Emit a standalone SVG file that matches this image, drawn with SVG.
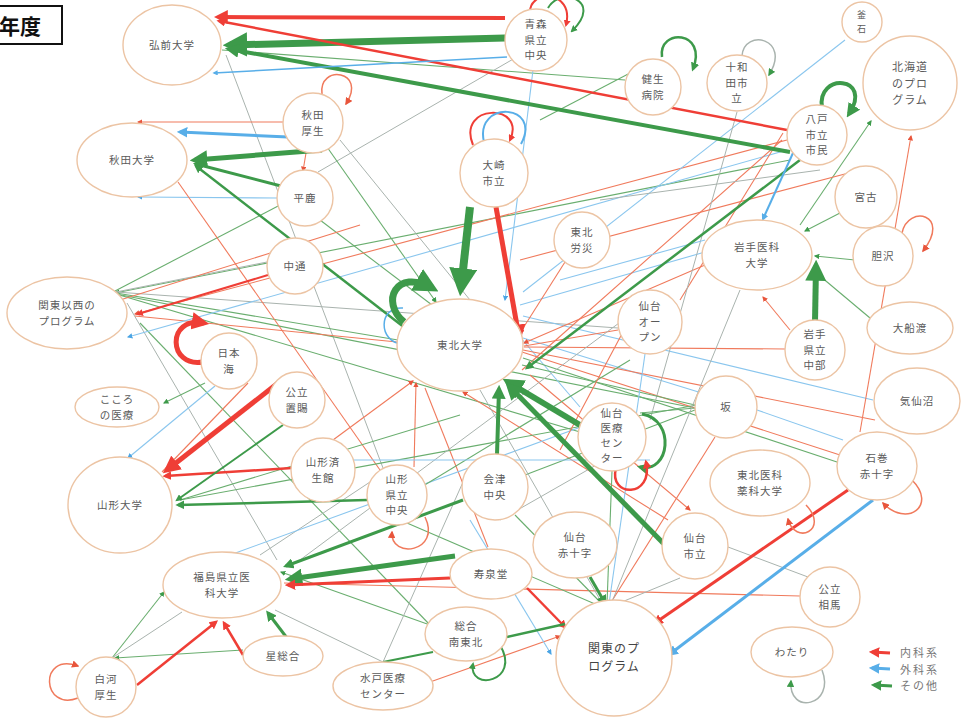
<svg xmlns="http://www.w3.org/2000/svg" width="961" height="719" viewBox="0 0 961 719">
<style>
.nd{fill:#fff;stroke:#ecc4a4;stroke-width:1.4}
.tx{font-family:"Noto Sans CJK JP","Noto Sans",sans-serif;font-size:10.5px;fill:#5a5a5a;text-anchor:middle;letter-spacing:1px}
path{fill:none}
.R{stroke:#ef3e36}.G{stroke:#3d9a4a}.B{stroke:#58aee8}
.r{stroke:#f07a5c;stroke-width:1.1}.g{stroke:#6aae6f;stroke-width:1.1}.b{stroke:#8ac6ee;stroke-width:1.1}.k{stroke:#a9b3ae;stroke-width:1}
.lg{font-family:"Noto Sans CJK JP","Noto Sans",sans-serif;font-size:11px;fill:#777;letter-spacing:2px}
</style>
<defs>
<marker id="mR" viewBox="0 0 10 10" refX="7" refY="5" markerWidth="3.5" markerHeight="3.5" orient="auto"><path d="M0,0L10,5L0,10z" style="fill:#ef3e36"/></marker>
<marker id="mG" viewBox="0 0 10 10" refX="7" refY="5" markerWidth="3.5" markerHeight="3.5" orient="auto"><path d="M0,0L10,5L0,10z" style="fill:#3d9a4a"/></marker>
<marker id="mB" viewBox="0 0 10 10" refX="7" refY="5" markerWidth="3.5" markerHeight="3.5" orient="auto"><path d="M0,0L10,5L0,10z" style="fill:#58aee8"/></marker>
<marker id="mr" viewBox="0 0 10 10" refX="8" refY="5" markerWidth="5" markerHeight="5" orient="auto"><path d="M0,0L10,5L0,10z" style="fill:#e8553c"/></marker>
<marker id="mg" viewBox="0 0 10 10" refX="8" refY="5" markerWidth="5" markerHeight="5" orient="auto"><path d="M0,0L10,5L0,10z" style="fill:#3d9a4a"/></marker>
<marker id="mb" viewBox="0 0 10 10" refX="8" refY="5" markerWidth="5" markerHeight="5" orient="auto"><path d="M0,0L10,5L0,10z" style="fill:#4aa4e4"/></marker>
</defs>
<rect width="961" height="719" fill="#fff"/>
<g id="title"><rect x="-4" y="6" width="66" height="38" fill="#fff" stroke="#111" stroke-width="2"/><text x="-1" y="34" style="font-family:'Noto Sans CJK JP',sans-serif;font-size:21px;font-weight:bold;fill:#111">年度</text></g>
<g id="connectors">
<path class="k" d="M226,55 L383,468"/>
<path class="g" d="M625,80 L222,50"/>
<path class="k" d="M318,172 L515,58"/>
<path class="g" d="M327,147 L436,302" marker-end="url(#mg)"/>
<path class="g" d="M320,220 L432,305"/>
<path class="g" d="M790,160 L115,293" marker-end="url(#mg)"/>
<path class="k" d="M267,262 L116,292"/>
<path class="g" d="M280,205 L115,291"/>
<path class="g" d="M398,340 L116,293"/>
<path class="g" d="M580,432 L116,294"/>
<path class="g" d="M695,408 L116,294"/>
<path class="k" d="M618,328 L116,292"/>
<path class="k" d="M127,303 L277,560"/>
<path class="g" d="M140,323 L430,625"/>
<path class="r" d="M787,140 L135,314" marker-end="url(#mr)"/>
<path class="r" d="M397,342 L135,316"/>
<path class="b" d="M787,150 L128,337" marker-end="url(#mb)"/>
<path class="b" d="M533,70 L505,300" marker-end="url(#mb)"/>
<path class="b" d="M845,40 L523,292"/>
<path class="b" d="M705,252 L520,305"/>
<path class="b" d="M520,337 L580,407"/>
<path class="b" d="M757,410 L523,338"/>
<path class="b" d="M873,400 L523,316"/>
<path class="b" d="M843,440 L757,410"/>
<path class="r" d="M288,122 L138,122" marker-end="url(#mr)"/>
<path class="b" d="M278,198 L138,197" marker-end="url(#mb)"/>
<path class="r" d="M306,153 L303,171" marker-end="url(#mr)"/>
<path class="r" d="M178,182 L380,470"/>
<path class="r" d="M333,440 L413,381" marker-end="url(#mr)"/>
<path class="r" d="M414,467 L416,383" marker-end="url(#mr)"/>
<path class="r" d="M668,520 L463,392" marker-end="url(#mr)"/>
<path class="r" d="M705,265 L524,343" marker-end="url(#mr)"/>
<path class="r" d="M618,330 L524,346"/>
<path class="r" d="M785,349 L524,347"/>
<path class="r" d="M875,420 L523,350"/>
<path class="r" d="M840,455 L522,352"/>
<path class="r" d="M565,262 L520,333" marker-end="url(#mr)"/>
<path class="r" d="M790,330 L763,297" marker-end="url(#mr)"/>
<path class="r" d="M783,133 L680,300"/>
<path class="r" d="M782,140 L522,370"/>
<path class="r" d="M860,432 L911,136" marker-end="url(#mr)"/>
<path class="r" d="M800,596 L284,583"/>
<path class="r" d="M425,388 L488,547"/>
<path class="r" d="M248,383 L162,472"/>
<path class="r" d="M530,375 L690,510" marker-end="url(#mr)"/>
<path class="r" d="M430,682 L560,636" marker-end="url(#mr)"/>
<path class="g" d="M800,225 L871,121" marker-end="url(#mg)"/>
<path class="g" d="M840,213 L805,231" marker-end="url(#mg)"/>
<path class="g" d="M855,260 L815,256" marker-end="url(#mg)"/>
<path class="g" d="M870,318 L814,271" marker-end="url(#mg)"/>
<path class="g" d="M205,383 L164,403" marker-end="url(#mg)"/>
<path class="b" d="M215,386 L128,458" marker-end="url(#mb)"/>
<path class="g" d="M430,625 L281,572" marker-end="url(#mg)"/>
<path class="g" d="M112,658 L164,592" marker-end="url(#mg)"/>
<path class="g" d="M243,650 L115,658" marker-end="url(#mg)"/>
<path class="k" d="M112,658 L182,612"/>
<path class="b" d="M470,520 L551,654" marker-end="url(#mb)"/>
<path class="k" d="M728,547 L808,577"/>
<path class="k" d="M737,112 L650,420"/>
<path class="g" d="M695,405 L522,365"/>
<path class="g" d="M695,410 L525,475"/>
<path class="g" d="M640,413 L695,408"/>
<path class="g" d="M840,463 L523,358"/>
<path class="g" d="M697,405 L180,500"/>
<path class="k" d="M383,662 L463,482"/>
<path class="k" d="M383,662 L275,610"/>
<path class="G" style="stroke-width:2" d="M383,662 L433,652"/>
<path class="k" d="M260,555 L370,482"/>
<path class="b" d="M600,420 L230,555"/>
<path class="k" d="M650,300 L300,560"/>
<path class="g" d="M612,471 L607,604"/>
<path class="r" d="M715,437 L610,604"/>
<path class="k" d="M680,578 L612,606"/>
<path class="g" d="M515,515 L604,606"/>
<path class="k" d="M480,390 L603,605"/>
<path class="b" d="M645,354 L609,604"/>
<path class="k" d="M740,290 L611,604"/>
<path class="g" d="M400,520 L602,607"/>
<path class="r" d="M520,260 L860,170"/>
<path class="k" d="M600,200 L820,170"/>
<path class="b" d="M560,280 L705,240"/>
<path class="g" d="M540,120 L655,60"/>
<path class="k" d="M340,140 L470,300"/>
<path class="r" d="M360,225 L120,300"/>
<path class="g" d="M630,360 L400,500"/>
<path class="r" d="M640,300 L560,450"/>
<path class="k" d="M500,520 L640,440"/>
<path class="b" d="M340,460 L650,460"/>
<path class="g" d="M180,500 L460,415"/>
<path class="R" style="stroke-width:4" d="M505,18 L218,17" marker-end="url(#mR)"/>
<path class="G" style="stroke-width:7" d="M505,38 L230,45" marker-end="url(#mG)"/>
<path class="R" style="stroke-width:2.5" d="M787,130 L219,21" marker-end="url(#mR)"/>
<path class="G" style="stroke-width:4" d="M790,152 L229,49" marker-end="url(#mG)"/>
<path class="B" style="stroke-width:1.5" d="M507,57 L214,73" marker-end="url(#mB)"/>
<path class="B" style="stroke-width:3" d="M288,137 L180,132" marker-end="url(#mB)"/>
<path class="G" style="stroke-width:5" d="M322,150 L195,160" marker-end="url(#mG)"/>
<path class="G" style="stroke-width:3" d="M281,186 L196,164" marker-end="url(#mG)"/>
<path class="G" style="stroke-width:8" d="M470,207 L461,288" marker-end="url(#mG)"/>
<path class="R" style="stroke-width:5" d="M496,207 L519,337" marker-end="url(#mR)"/>
<path class="G" style="stroke-width:6" d="M585,428 L508,382" marker-end="url(#mG)"/>
<path class="G" style="stroke-width:5" d="M665,545 L509,386" marker-end="url(#mG)"/>
<path class="G" style="stroke-width:4" d="M497,455 L499,389" marker-end="url(#mG)"/>
<path class="R" style="stroke-width:5" d="M278,383 L167,470" marker-end="url(#mR)"/>
<path class="R" style="stroke-width:2.5" d="M292,468 L165,476" marker-end="url(#mR)"/>
<path class="G" style="stroke-width:5" d="M455,556 L290,579" marker-end="url(#mG)"/>
<path class="R" style="stroke-width:3" d="M450,578 L288,585" marker-end="url(#mR)"/>
<path class="G" style="stroke-width:3" d="M287,638 L268,613" marker-end="url(#mG)"/>
<path class="R" style="stroke-width:2.5" d="M243,655 L224,623" marker-end="url(#mR)"/>
<path class="R" style="stroke-width:2.5" d="M137,685 L216,622" marker-end="url(#mR)"/>
<path class="R" style="stroke-width:3" d="M848,490 L655,623" marker-end="url(#mR)"/>
<path class="B" style="stroke-width:3" d="M873,500 L670,654" marker-end="url(#mB)"/>
<path class="G" style="stroke-width:6" d="M815,322 L816,266" marker-end="url(#mG)"/>
<path class="R" style="stroke-width:2.5" d="M527,588 L565,627" marker-end="url(#mR)"/>
<path class="G" style="stroke-width:2.5" d="M507,637 L565,624"/>
<path class="G" style="stroke-width:3" d="M590,577 L605,603" marker-end="url(#mG)"/>
<path class="G" style="stroke-width:2.5" d="M800,160 L527,368" marker-end="url(#mG)"/>
<path class="G" style="stroke-width:2.5" d="M405,328 L196,166" marker-end="url(#mG)"/>
<path class="G" style="stroke-width:2.5" d="M367,500 L178,505" marker-end="url(#mG)"/>
<path class="G" style="stroke-width:2" d="M283,425 L177,500" marker-end="url(#mG)"/>
<path class="G" style="stroke-width:3" d="M463,500 L286,566" marker-end="url(#mG)"/>
<path class="B" style="stroke-width:2" d="M793,153 L763,219" marker-end="url(#mB)"/>
<path class="R" style="stroke-width:2" d="M268,275 L138,314" marker-end="url(#mR)"/>
<path class="R" style="stroke-width:2" d="M530,14 C528,-12 575,-10 566,25" marker-end="url(#mR)"/>
<path class="G" style="stroke-width:2" d="M548,8 C560,-14 604,0 572,31" marker-end="url(#mG)"/>
<path class="G" style="stroke-width:2.5" d="M662,57 C658,28 708,30 693,69" marker-end="url(#mG)"/>
<path class="k" style="stroke-width:1.5" d="M742,56 C744,28 792,38 769,75" marker-end="url(#mg)"/>
<path class="G" style="stroke-width:4" d="M822,108 C816,72 874,76 849,114" marker-end="url(#mG)"/>
<path class="r" style="stroke-width:1.5" d="M322,94 C318,64 368,70 346,104" marker-end="url(#mr)"/>
<path class="R" style="stroke-width:2" d="M473,145 C456,103 527,103 510,140" marker-end="url(#mR)"/>
<path class="B" style="stroke-width:2" d="M484,142 C474,100 543,103 521,144"/>
<path class="B" style="stroke-width:1.5" d="M403,308 C378,306 378,342 402,344"/>
<path class="G" style="stroke-width:7" d="M404,322 C380,302 396,268 432,288" marker-end="url(#mG)"/>
<path class="R" style="stroke-width:5" d="M203,362 C168,368 166,316 204,323" marker-end="url(#mR)"/>
<path class="r" style="stroke-width:1.5" d="M425,517 C442,552 390,560 392,532" marker-end="url(#mr)"/>
<path class="G" style="stroke-width:3" d="M642,414 C676,420 670,474 640,467" marker-end="url(#mG)"/>
<path class="R" style="stroke-width:2.5" d="M616,468 C608,498 654,498 646,462" marker-end="url(#mR)"/>
<path class="G" style="stroke-width:2" d="M500,645 C522,682 468,692 473,664" marker-end="url(#mG)"/>
<path class="r" style="stroke-width:1.5" d="M78,698 C42,712 38,652 78,666" marker-end="url(#mr)"/>
<path class="r" style="stroke-width:1.5" d="M912,480 C938,506 906,528 883,503" marker-end="url(#mr)"/>
<path class="r" style="stroke-width:1.5" d="M806,505 C830,530 795,546 788,519" marker-end="url(#mr)"/>
<path class="r" style="stroke-width:1.5" d="M902,233 C908,204 952,214 923,251" marker-end="url(#mr)"/>
<path class="k" style="stroke-width:1.5" d="M822,670 C836,706 788,716 791,681" marker-end="url(#mg)"/>
</g>
<g id="n-hirosaki"><ellipse class="nd" cx="172" cy="45" rx="49" ry="40"/><text class="tx" x="172" y="49">弘前大学</text></g>
<g id="n-aomori"><circle class="nd" cx="536" cy="40" r="31"/><text class="tx" x="536" y="28">青森<tspan x="536" dy="15.5">県立</tspan><tspan x="536" dy="15.5">中央</tspan></text></g>
<g id="n-kensei"><circle class="nd" cx="653" cy="87" r="28"/><text class="tx" x="653" y="83">健生<tspan x="653" dy="15.5">病院</tspan></text></g>
<g id="n-towada"><ellipse class="nd" cx="737" cy="83" rx="30" ry="28"/><text class="tx" x="737" y="71">十和<tspan x="737" dy="15.5">田市</tspan><tspan x="737" dy="15.5">立</tspan></text></g>
<g id="n-kamaishi"><circle class="nd" cx="862" cy="22" r="20"/><text class="tx" x="862" y="18" style="font-size:9px">釜<tspan x="862" dy="13.5">石</tspan></text></g>
<g id="n-hokkaido"><circle class="nd" cx="910" cy="83" r="47"/><text class="tx" x="910" y="71" style="font-size:11px">北海道<tspan x="910" dy="16.5">のプロ</tspan><tspan x="910" dy="16.5">グラム</tspan></text></g>
<g id="n-hachinohe"><circle class="nd" cx="817" cy="135" r="30"/><text class="tx" x="817" y="123">八戸<tspan x="817" dy="15.5">市立</tspan><tspan x="817" dy="15.5">市民</tspan></text></g>
<g id="n-miyako"><circle class="nd" cx="866" cy="197" r="31"/><text class="tx" x="866" y="201">宮古</text></g>
<g id="n-akitakosei"><circle class="nd" cx="313" cy="123" r="30"/><text class="tx" x="313" y="119">秋田<tspan x="313" dy="15.5">厚生</tspan></text></g>
<g id="n-akita"><ellipse class="nd" cx="132" cy="160" rx="55" ry="37"/><text class="tx" x="132" y="164">秋田大学</text></g>
<g id="n-hiraka"><circle class="nd" cx="305" cy="198" r="28"/><text class="tx" x="305" y="202">平鹿</text></g>
<g id="n-nakadori"><circle class="nd" cx="295" cy="266" r="28"/><text class="tx" x="295" y="270">中通</text></g>
<g id="n-kantoisei"><ellipse class="nd" cx="67" cy="313" rx="60" ry="36"/><text class="tx" x="67" y="309">関東以西の<tspan x="67" dy="15.5">プログラム</tspan></text></g>
<g id="n-nihonkai"><circle class="nd" cx="229" cy="361" r="28"/><text class="tx" x="229" y="357">日本<tspan x="229" dy="15.5">海</tspan></text></g>
<g id="n-kokoro"><ellipse class="nd" cx="117" cy="407" rx="42" ry="20"/><text class="tx" x="117" y="403">こころ<tspan x="117" dy="15.5">の医療</tspan></text></g>
<g id="n-okitama"><circle class="nd" cx="297" cy="400" r="28"/><text class="tx" x="297" y="396">公立<tspan x="297" dy="15.5">置賜</tspan></text></g>
<g id="n-yamagata"><ellipse class="nd" cx="120" cy="505" rx="52" ry="48"/><text class="tx" x="120" y="509">山形大学</text></g>
<g id="n-saiseikan"><circle class="nd" cx="323" cy="470" r="32"/><text class="tx" x="323" y="466">山形済<tspan x="323" dy="15.5">生館</tspan></text></g>
<g id="n-yamagatachuo"><circle class="nd" cx="397" cy="495" r="30"/><text class="tx" x="397" y="483">山形<tspan x="397" dy="15.5">県立</tspan><tspan x="397" dy="15.5">中央</tspan></text></g>
<g id="n-aizuchuo"><circle class="nd" cx="495" cy="487" r="33"/><text class="tx" x="495" y="483">会津<tspan x="495" dy="15.5">中央</tspan></text></g>
<g id="n-sendaiiryo"><circle class="nd" cx="612" cy="437" r="34"/><text class="tx" x="612" y="417">仙台<tspan x="612" dy="15">医療</tspan><tspan x="612" dy="15">セン</tspan><tspan x="612" dy="15">ター</tspan></text></g>
<g id="n-sendaisekijuji"><ellipse class="nd" cx="575" cy="545" rx="42" ry="33"/><text class="tx" x="575" y="541">仙台<tspan x="575" dy="15.5">赤十字</tspan></text></g>
<g id="n-jusendo"><ellipse class="nd" cx="491" cy="574" rx="41" ry="25"/><text class="tx" x="491" y="578">寿泉堂</text></g>
<g id="n-minamitohoku"><ellipse class="nd" cx="466" cy="634" rx="41" ry="27"/><text class="tx" x="466" y="630">総合<tspan x="466" dy="15.5">南東北</tspan></text></g>
<g id="n-mito"><ellipse class="nd" cx="383" cy="686" rx="50" ry="24"/><text class="tx" x="383" y="682">水戸医療<tspan x="383" dy="15.5">センター</tspan></text></g>
<g id="n-kanto"><circle class="nd" cx="614" cy="658" r="58"/><text class="tx" x="614" y="653" style="font-size:12px;fill:#444">関東のプ<tspan x="614" dy="18">ログラム</tspan></text></g>
<g id="n-fukushima"><ellipse class="nd" cx="222" cy="585" rx="59" ry="33"/><text class="tx" x="222" y="581">福島県立医<tspan x="222" dy="15.5">科大学</tspan></text></g>
<g id="n-hoshi"><ellipse class="nd" cx="283" cy="656" rx="40" ry="20"/><text class="tx" x="283" y="660">星総合</text></g>
<g id="n-shirakawa"><circle class="nd" cx="106" cy="687" r="30"/><text class="tx" x="106" y="683">白河<tspan x="106" dy="15.5">厚生</tspan></text></g>
<g id="n-sendaishiritsu"><circle class="nd" cx="695" cy="546" r="33"/><text class="tx" x="695" y="542">仙台<tspan x="695" dy="15.5">市立</tspan></text></g>
<g id="n-tohokuika"><ellipse class="nd" cx="760" cy="483" rx="50" ry="33"/><text class="tx" x="760" y="479">東北医科<tspan x="760" dy="15.5">薬科大学</tspan></text></g>
<g id="n-soma"><circle class="nd" cx="830" cy="597" r="30"/><text class="tx" x="830" y="593">公立<tspan x="830" dy="15.5">相馬</tspan></text></g>
<g id="n-watari"><ellipse class="nd" cx="792" cy="652" rx="41" ry="25"/><text class="tx" x="792" y="656">わたり</text></g>
<g id="n-ishinomaki"><ellipse class="nd" cx="877" cy="466" rx="40" ry="34"/><text class="tx" x="877" y="462">石巻<tspan x="877" dy="15.5">赤十字</tspan></text></g>
<g id="n-saka"><circle class="nd" cx="726" cy="407" r="31"/><text class="tx" x="726" y="411">坂</text></g>
<g id="n-kesennuma"><ellipse class="nd" cx="917" cy="401" rx="43" ry="33"/><text class="tx" x="917" y="405">気仙沼</text></g>
<g id="n-ofunato"><ellipse class="nd" cx="910" cy="328" rx="43" ry="26"/><text class="tx" x="910" y="332">大船渡</text></g>
<g id="n-iwatechubu"><circle class="nd" cx="815" cy="350" r="30"/><text class="tx" x="815" y="338">岩手<tspan x="815" dy="15.5">県立</tspan><tspan x="815" dy="15.5">中部</tspan></text></g>
<g id="n-iwateidai"><ellipse class="nd" cx="757" cy="255" rx="55" ry="35"/><text class="tx" x="757" y="251">岩手医科<tspan x="757" dy="15.5">大学</tspan></text></g>
<g id="n-isawa"><circle class="nd" cx="883" cy="256" r="30"/><text class="tx" x="883" y="260">胆沢</text></g>
<g id="n-sendaiopen"><circle class="nd" cx="650" cy="322" r="32"/><text class="tx" x="650" y="310">仙台<tspan x="650" dy="15.5">オー</tspan><tspan x="650" dy="15.5">プン</tspan></text></g>
<g id="n-rosai"><circle class="nd" cx="582" cy="240" r="28"/><text class="tx" x="582" y="236">東北<tspan x="582" dy="15.5">労災</tspan></text></g>
<g id="n-osaki"><circle class="nd" cx="494" cy="173" r="34"/><text class="tx" x="494" y="169">大崎<tspan x="494" dy="15.5">市立</tspan></text></g>
<g id="n-tohoku"><ellipse class="nd" cx="460" cy="345" rx="63" ry="46"/><text class="tx" x="460" y="349">東北大学</text></g>
<g id="legend">
<path class="R" style="stroke-width:3" d="M890,653 L872,652" marker-end="url(#mR)"/>
<path class="B" style="stroke-width:3" d="M890,669 L872,668" marker-end="url(#mB)"/>
<path class="G" style="stroke-width:3" d="M892,686 L874,685" marker-end="url(#mG)"/>
<text class="lg" x="900" y="657">内科系<tspan x="900" dy="16.5">外科系</tspan><tspan x="900" dy="16.5">その他</tspan></text>
</g>
</svg>
